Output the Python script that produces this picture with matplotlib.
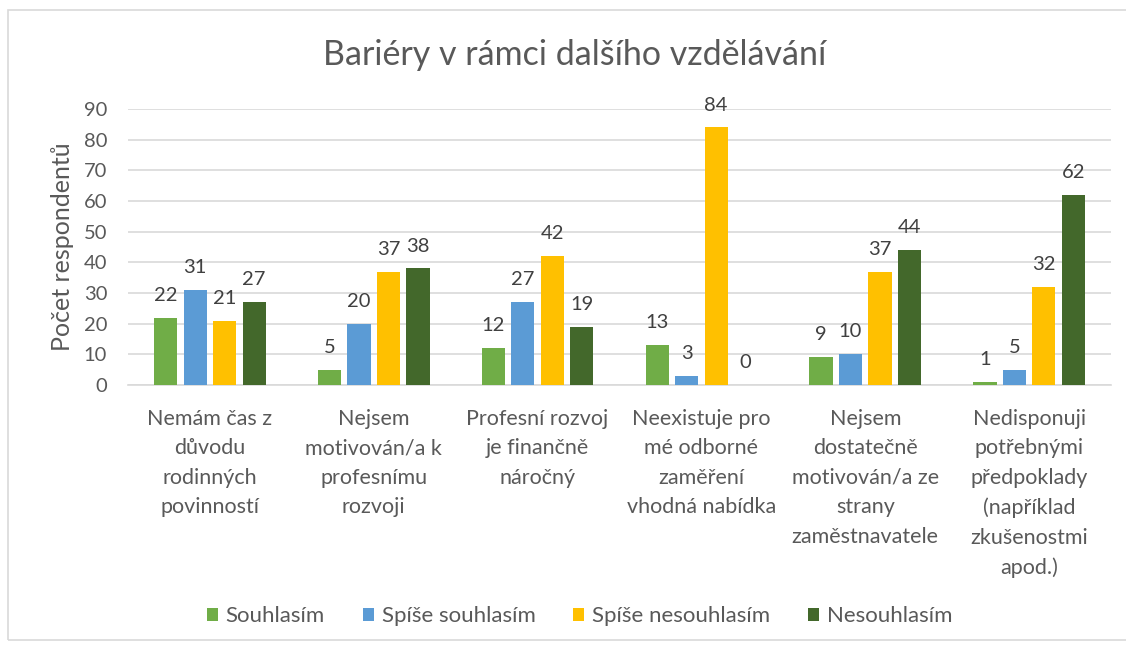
import numpy as np
import matplotlib.pyplot as plt
from matplotlib.patches import Rectangle

# DATA
CATEGORIES = [
    "Nemám čas z\ndůvodu\nrodinných\npovinností",
    "Nejsem\nmotivován/a k\nprofesnímu\nrozvoji",
    "Profesní rozvoj\nje finančně\nnáročný",
    "Neexistuje pro\nmé odborné\nzaměření\nvhodná nabídka",
    "Nejsem\ndostatečně\nmotivován/a ze\nstrany\nzaměstnavatele",
    "Nedisponuji\npotřebnými\npředpoklady\n(například\nzkušenostmi\napod.)",
]
SERIES = ["Souhlasím", "Spíše souhlasím", "Spíše nesouhlasím", "Nesouhlasím"]
souhlasim = [22, 5, 12, 13, 9, 1]
spise_souhlasim = [31, 20, 27, 3, 10, 5]
spise_nesouhlasim = [21, 37, 42, 84, 37, 32]
nesouhlasim = [27, 38, 19, 0, 44, 62]
VALUES = [souhlasim, spise_souhlasim, spise_nesouhlasim, nesouhlasim]
COLORS = ["#70AD47", "#5B9BD5", "#FFC000", "#43682B"]
TEXT = "#595959"

plt.rcParams['font.family'] = ['Lato', 'DejaVu Sans']

fig = plt.figure(figsize=(11.26, 6.48), dpi=100)
ax = fig.add_axes([0.1137, 0.4059, 0.8730, 0.4259])

x = np.arange(len(CATEGORIES))
width = 0.142
stride = 0.18
for i, (name, vals, col) in enumerate(zip(SERIES, VALUES, COLORS)):
    pos = x + (i - 1.5) * stride
    bars = ax.bar(pos, vals, width, color=col, label=name, zorder=3)
    for b, v in zip(bars, vals):
        ax.annotate(str(v), (b.get_x() + b.get_width() / 2, v),
                    xytext=(0, 10), textcoords="offset points",
                    ha="center", va="bottom", fontsize=14.5, color="#404040")

ax.set_xlim(-0.5, len(CATEGORIES) - 0.5)
ax.set_ylim(0, 90)
ax.set_yticks(range(0, 91, 10))
ax.set_xticks(x)
ax.set_xticklabels(CATEGORIES, fontsize=15.5, color=TEXT, linespacing=1.6)
ax.tick_params(axis="y", labelsize=14.5, labelcolor=TEXT, length=0, pad=15)
ax.tick_params(axis="x", length=0, pad=17)
ax.grid(axis="y", color="#D9D9D9", linewidth=1.2, zorder=0)
for s in ["top", "right", "left"]:
    ax.spines[s].set_visible(False)
ax.spines["bottom"].set_color("#D9D9D9")
ax.spines["bottom"].set_linewidth(1.2)
ax.set_ylabel("Počet respondentů", fontsize=18, color=TEXT)
ax.yaxis.set_label_coords(-0.055, 0.5)

fig.text(0.51, 0.915, "Bariéry v rámci dalšího vzdělávání", ha="center",
         va="center", fontsize=24.5, color=TEXT)

ax.legend(loc="center", bbox_to_anchor=(0.5147, 0.049),
          bbox_transform=fig.transFigure, ncol=4, frameon=False,
          fontsize=16, labelcolor=TEXT, handlelength=0.5, handleheight=0.5,
          handletextpad=0.35, columnspacing=1.7)

fig.patches.append(Rectangle((0.007, 0.012), 1.1, 0.972, transform=fig.transFigure,
                             fill=False, edgecolor="#D9D9D9", linewidth=1.2))

plt.savefig("out.png", dpi=100)
